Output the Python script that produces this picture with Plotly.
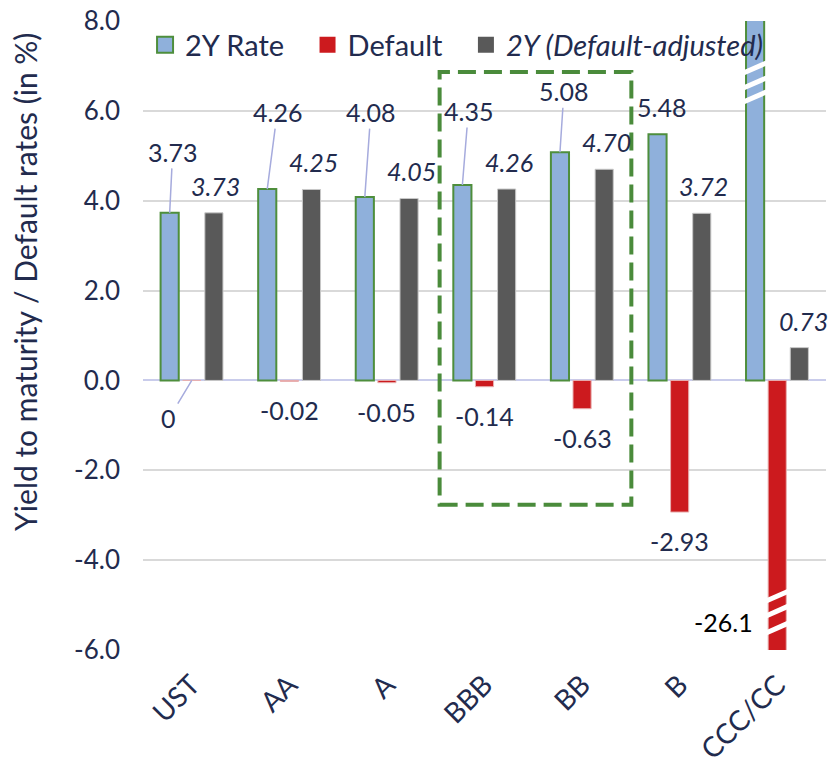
import plotly.graph_objects as go

categories = ["UST", "AA", "A", "BBB", "BB", "B", "CCC/CC"]
rate_2y = [3.73, 4.26, 4.08, 4.35, 5.08, 5.48, 26.83]
default_rate = [0, -0.02, -0.05, -0.14, -0.63, -2.93, -26.1]
adjusted_2y = [3.73, 4.25, 4.05, 4.26, 4.70, 3.72, 0.73]
y_ticks = [-6, -4, -2, 0, 2, 4, 6, 8]

# label leader offsets (px) for the 2Y Rate labels (None = no leader line)
rate_label_offsets = [(3, -61), (10, -77), (6, -85), (6, -74), (4, -61), None, None]

NAVY = "#222B4E"
BLUE = "#8FB0DB"
GREEN = "#4E8E3C"
RED = "#CC1A1E"
GRAY = "#595959"
LEADER = "#A6ABDD"
FONT = "Lato"

YMIN, YMAX = -6, 8
BARGAP = 0.32
SLOT = (1 - BARGAP) / 3
PAD = "\u00a0" * 2 + "\u2009"

fig = go.Figure()
fig.add_trace(go.Bar(x=categories, y=rate_2y, name="2Y Rate", showlegend=False,
                     marker=dict(color=BLUE, line=dict(color=GREEN, width=2))))
fig.add_trace(go.Bar(x=categories, y=default_rate, name="Default", showlegend=False,
                     marker=dict(color=RED, line=dict(color="#E8B0B0", width=1))))
fig.add_trace(go.Bar(x=categories, y=adjusted_2y, name="2Y (Default-adjusted)", showlegend=False,
                     marker=dict(color=GRAY, line=dict(color="#C8C8C8", width=1))))

# legend proxies (larger square icons)
fig.add_trace(go.Scatter(x=[None], y=[None], mode="markers", name="2Y Rate" + PAD,
                         marker=dict(symbol="square", size=16, color=BLUE, line=dict(color=GREEN, width=2))))
fig.add_trace(go.Scatter(x=[None], y=[None], mode="markers", name="Default" + PAD,
                         marker=dict(symbol="square", size=16, color=RED, line=dict(width=0))))
fig.add_trace(go.Scatter(x=[None], y=[None], mode="markers", name="<i>2Y (Default-adjusted)</i>",
                         marker=dict(symbol="square", size=16, color=GRAY, line=dict(width=0))))

annotations = []
px_per_cat = 683 / 7
shift_bar = SLOT * px_per_cat

# 2Y Rate labels
for i, (c, v) in enumerate(zip(categories, rate_2y)):
    if v > YMAX:
        continue
    off = rate_label_offsets[i]
    if off is None:
        annotations.append(dict(x=c, y=v, text=f"{v:.2f}", showarrow=False, xshift=-shift_bar + 4,
                                yshift=27, yanchor="middle", font=dict(size=25, color=NAVY, family=FONT)))
    else:
        annotations.append(dict(x=c, y=v, text=f"{v:.2f}", showarrow=True, arrowhead=0,
                                arrowwidth=1.5, arrowcolor=LEADER, ax=off[0], ay=off[1],
                                xshift=-shift_bar, font=dict(size=25, color=NAVY, family=FONT)))

# Default labels
for i, (c, v) in enumerate(zip(categories, default_rate)):
    if v == 0:
        annotations.append(dict(x=c, y=v, text="0", showarrow=True, arrowhead=0, arrowwidth=1.5,
                                arrowcolor=LEADER, ax=-23, ay=38,
                                font=dict(size=25, color=NAVY, family=FONT)))
    elif v < YMIN:
        annotations.append(dict(x=c, y=YMIN, text=f"{v:.1f}", showarrow=False, xshift=-54, yshift=28,
                                yanchor="middle", font=dict(size=25, color="#000000", family=FONT)))
    else:
        annotations.append(dict(x=c, y=v, text=f"{v:.2f}", showarrow=False, yshift=-29,
                                yanchor="middle", font=dict(size=25, color=NAVY, family=FONT)))

# adjusted labels
for i, (c, v) in enumerate(zip(categories, adjusted_2y)):
    xs = shift_bar + (4 if i == 6 else 2)
    annotations.append(dict(x=c, y=v, text=f"<i>{v:.2f}</i>", showarrow=False, xshift=xs, yshift=27,
                            yanchor="middle", font=dict(size=25, color=NAVY, family=FONT)))

# y-axis title
annotations.append(dict(xref="paper", yref="paper", x=-0.173, y=0.585, text="Yield to maturity / Default rates (in %)",
                        textangle=-90, showarrow=False, xanchor="center", yanchor="middle",
                        font=dict(size=30, color=NAVY, family=FONT)))

shapes = []
# highlight box around BBB/BB
shapes.append(dict(type="rect", xref="x", yref="y", x0=2.54, x1=4.505, y0=-2.767, y1=6.867,
                   line=dict(color="#4A8B3B", width=4, dash="18px,8px"), fillcolor="rgba(0,0,0,0)", layer="above"))

# axis break marks
ci = len(categories) - 1
for yc in [6.956, 6.622, 6.311]:
    xc = ci - SLOT
    shapes.append(dict(type="line", xref="x", yref="y", x0=xc - 0.12, x1=xc + 0.12, y0=yc - 0.115, y1=yc + 0.115,
                       line=dict(color="white", width=5), layer="above"))
for yc in [-4.8, -5.133, -5.511]:
    xc = ci
    shapes.append(dict(type="line", xref="x", yref="y", x0=xc - 0.12, x1=xc + 0.12, y0=yc - 0.115, y1=yc + 0.115,
                       line=dict(color="white", width=5), layer="above"))

fig.update_layout(
    width=828, height=767,
    margin=dict(l=143, r=2, t=21, b=115),
    paper_bgcolor="white", plot_bgcolor="white",
    barmode="group", bargap=BARGAP, bargroupgap=0.18,
    font=dict(family=FONT, color=NAVY, size=25),
    legend=dict(orientation="h", x=0.003, y=0.962, xanchor="left", yanchor="middle",
                bgcolor="rgba(0,0,0,0)", font=dict(size=29, color=NAVY, family=FONT)),
    annotations=annotations,
    shapes=shapes,
    xaxis=dict(type="category", tickangle=-45, tickfont=dict(size=28, color=NAVY, family=FONT),
               showgrid=False, showline=False, ticks="", range=[-0.5, 6.5], ticklabelstandoff=12),
    yaxis=dict(range=[YMIN, YMAX], tickvals=y_ticks, ticktext=[f"{v:.1f}" for v in y_ticks],
               gridcolor="#D9D9D9", gridwidth=2,
               zeroline=True, zerolinecolor="#C9CCEB", zerolinewidth=2, showline=False, ticks="",
               tickfont=dict(size=26, color=NAVY, family=FONT), ticklabelstandoff=22),
)

fig.write_html("out.html", config={"displayModeBar": False},
               post_script="document.body.style.margin='0';document.body.style.padding='0';")
